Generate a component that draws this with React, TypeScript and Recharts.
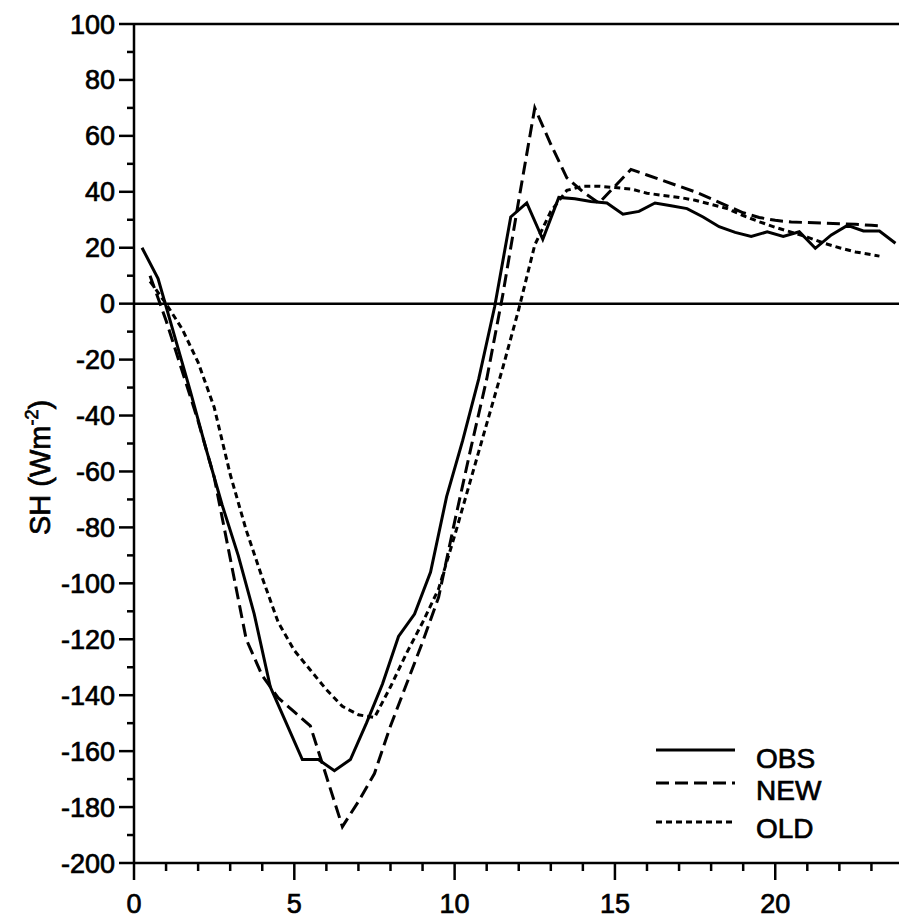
import React from "react";
import { LineChart, Line, XAxis, YAxis, ReferenceLine, Legend, Label } from "recharts";

// hours / SH values
const obsHours = [0.25, 0.75, 1.25, 1.75, 2.25, 2.75, 3.25, 3.75, 4.25, 4.75, 5.25, 5.75, 6.25, 6.75, 7.25, 7.75, 8.25, 8.75, 9.25, 9.75, 10.25, 10.75, 11.25, 11.75, 12.25, 12.75, 13.25, 13.75, 14.25, 14.75, 15.25, 15.75, 16.25, 16.75, 17.25, 17.75, 18.25, 18.75, 19.25, 19.75, 20.25, 20.75, 21.25, 21.75, 22.25, 22.75, 23.25, 23.75];
const obsValues = [20, 9, -11, -31, -52, -72, -90, -111, -137, -150, -163, -163, -167, -163, -150, -136, -119, -111, -96, -69, -49, -27, -1, 31, 36, 23, 38, 37.5, 36.5, 36, 32, 33, 36, 35, 34, 31, 27.5, 25.5, 24, 25.7, 24, 25.7, 19.8, 24.6, 28, 26, 26, 21.6];

const newHours = [0.5, 1, 1.5, 2, 2.5, 3, 3.5, 4, 4.5, 5, 5.5, 6, 6.5, 7, 7.5, 8, 8.5, 9, 9.5, 10, 10.5, 11, 11.5, 12, 12.5, 13, 13.5, 14, 14.5, 15, 15.5, 16, 16.5, 17, 17.5, 18, 18.5, 19, 19.5, 20, 20.5, 21, 21.5, 22, 22.5, 23, 23.25];
const newValues = [10, -6, -24, -42, -62, -91, -120, -133, -141, -146, -151, -169, -187, -178, -168, -151, -136, -121, -105, -78, -52, -27, 3, 37, 70, 57, 45, 40, 36, 42, 48, 46, 44, 42, 40, 37.5, 35, 32.5, 30.8, 29.8, 29.2, 29, 28.8, 28.6, 28.4, 28, 27.8];

const oldHours = [0.5, 1, 1.5, 2, 2.5, 3, 3.5, 4, 4.5, 5, 5.5, 6, 6.5, 7, 7.5, 8, 8.5, 9, 9.5, 10, 10.5, 11, 11.5, 12, 12.5, 13, 13.5, 14, 14.5, 15, 15.5, 16, 16.5, 17, 17.5, 18, 18.5, 19, 19.5, 20, 20.5, 21, 21.5, 22, 22.5, 23, 23.25];
const oldValues = [8, 0, -9, -21, -37, -61, -81, -98, -114, -124, -131, -138, -144, -147, -148, -137, -125, -114, -102, -83, -63, -43, -23, -2, 21, 33, 40.5, 42, 42, 41.5, 41, 39.5, 38.7, 38, 37, 35.5, 34, 31.5, 29.3, 27.3, 25.6, 23.8, 21.7, 20, 18.5, 17.5, 17];

const xTicks = [0, 1, 2, 3, 4, 5, 6, 7, 8, 9, 10, 11, 12, 13, 14, 15, 16, 17, 18, 19, 20, 21, 22, 23];
const yTicks = [-200, -190, -180, -170, -160, -150, -140, -130, -120, -110, -100, -90, -80, -70, -60, -50, -40, -30, -20, -10, 0, 10, 20, 30, 40, 50, 60, 70, 80, 90, 100];

const series = [
  { name: "OBS", hours: obsHours, values: obsValues, dash: undefined as string | undefined },
  { name: "NEW", hours: newHours, values: newValues, dash: "13 6" },
  { name: "OLD", hours: oldHours, values: oldValues, dash: "6 4" },
];

const FONT = "'Liberation Sans', Arial, Helvetica, sans-serif";
// scanned print looks heavy, thicken glyphs a little
const ink = { fill: "#000", stroke: "#000", strokeWidth: 0.7 };

const YTick = ({ x, y, payload }: any) => {
  const major = payload.value % 20 === 0;
  return (
    <g>
      <line x1={x - (major ? 15 : 7)} x2={x} y1={y} y2={y} stroke="#000" strokeWidth={2.5} />
      {major && (
        <text x={x - 19} y={y + 9.5} textAnchor="end" fontSize={27} fontFamily={FONT} {...ink}>
          {payload.value}
        </text>
      )}
    </g>
  );
};

const XTick = ({ x, y, payload }: any) => {
  const major = payload.value % 5 === 0;
  return (
    <g>
      <line x1={x} x2={x} y1={y} y2={y + (major ? 17 : 8)} stroke="#000" strokeWidth={2.5} />
      {major && (
        <text x={x} y={y + 50} textAnchor="middle" fontSize={27} fontFamily={FONT} {...ink}>
          {payload.value}
        </text>
      )}
    </g>
  );
};

const YLabel = ({ viewBox }: any) => {
  const cy = viewBox.y + viewBox.height / 2 + 24;
  return (
    <text transform={`translate(50, ${cy}) rotate(-90)`} textAnchor="middle" fontSize={29} fontFamily={FONT} {...ink}>
      <tspan>SH (Wm</tspan>
      <tspan dy={-12} fontSize={18}>-2</tspan>
      <tspan dy={12}>)</tspan>
    </text>
  );
};

const LegendBox = () => (
  <svg width={220} height={115}>
    {series.map((s, i) => {
      const ly = [15, 48, 87][i];
      const ty = [33, 65, 103][i];
      return (
        <g key={s.name}>
          <line x1={6} x2={85} y1={ly} y2={ly} stroke="#000" strokeWidth={3} strokeDasharray={s.dash} />
          <text x={106} y={ty} fontSize={28} fontFamily={FONT} {...ink}>{s.name}</text>
        </g>
      );
    })}
  </svg>
);

export default function App() {
  return (
    <div style={{ position: "absolute", left: 0, top: 0, width: 899, height: 922, background: "#fff" }}>
      <LineChart width={899} height={922} margin={{ top: 24, right: 0, bottom: 0, left: 0 }}>
        <XAxis
          type="number"
          dataKey="x"
          domain={[0, 23.86]}
          allowDataOverflow
          ticks={xTicks}
          interval={0}
          height={59}
          tickSize={0}
          tickMargin={0}
          tickLine={false}
          axisLine={{ stroke: "#000", strokeWidth: 2.5 }}
          tick={<XTick />}
        />
        <YAxis
          type="number"
          domain={[-200, 100]}
          ticks={yTicks}
          interval={0}
          width={134}
          tickSize={0}
          tickMargin={0}
          tickLine={false}
          axisLine={{ stroke: "#000", strokeWidth: 2.5 }}
          tick={<YTick />}
        >
          <Label content={<YLabel />} />
        </YAxis>
        <ReferenceLine y={100} stroke="#000" strokeWidth={2.5} />
        <ReferenceLine y={0} stroke="#000" strokeWidth={2.5} />
        {series.map((s) => (
          <Line
            key={s.name}
            name={s.name}
            data={s.hours.map((h, i) => ({ x: h, y: s.values[i] }))}
            dataKey="y"
            type="linear"
            stroke="#000"
            strokeWidth={3}
            strokeDasharray={s.dash}
            dot={false}
            isAnimationActive={false}
          />
        ))}
        <Legend
          layout="horizontal"
          verticalAlign="middle"
          wrapperStyle={{ left: 650, top: 735, width: 220 }}
          content={<LegendBox />}
        />
      </LineChart>
    </div>
  );
}
